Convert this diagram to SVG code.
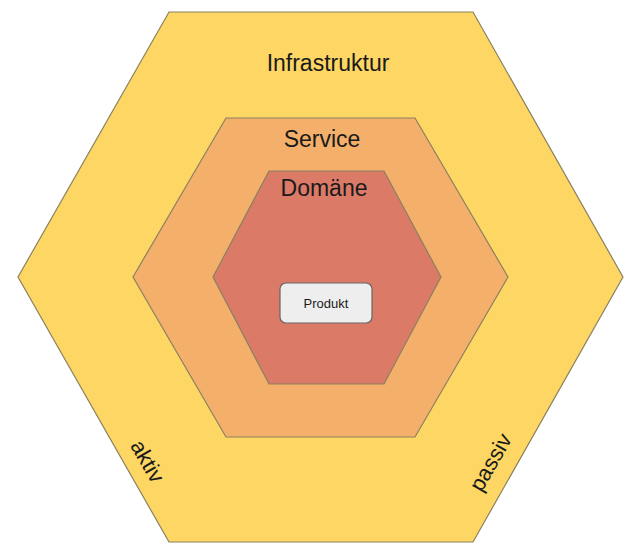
<svg xmlns="http://www.w3.org/2000/svg" width="637" height="552" viewBox="0 0 637 552">
<style>
.hex{stroke:#8a8060;stroke-width:1.2}
.t{font-family:"Liberation Sans",Arial,sans-serif;fill:#1a1a1a;text-anchor:middle}
</style>
<rect width="637" height="552" fill="#fff"/>
<g id="infrastruktur">
<polygon class="hex" fill="#fdd663" points="169,12 473,12 623,277 473,542 169,542 18,277"/>
<text class="t" x="328" y="71" font-size="23">Infrastruktur</text>
<text class="t" x="141" y="465" font-size="22" transform="rotate(60 141 465)">aktiv</text>
<text class="t" x="497" y="466" font-size="22" transform="rotate(-60 497 466)">passiv</text>
</g>
<g id="service">
<polygon class="hex" fill="#f4b06a" points="226,118 415,118 508,277 415,437 226,437 133,277"/>
<text class="t" x="322" y="147" font-size="23">Service</text>
</g>
<g id="domaene">
<polygon class="hex" fill="#dc7a68" points="269,171 384,171 441,277 384,384 269,384 213,277"/>
<text class="t" x="324" y="196" font-size="23">Domäne</text>
</g>
<g id="produkt">
<rect x="280" y="283" width="92" height="40" rx="6" fill="#eeeeee" stroke="#666" stroke-width="1.2"/>
<text class="t" x="326" y="308" font-size="13" fill="#333">Produkt</text>
</g>
<g id="connectors"/>
</svg>
